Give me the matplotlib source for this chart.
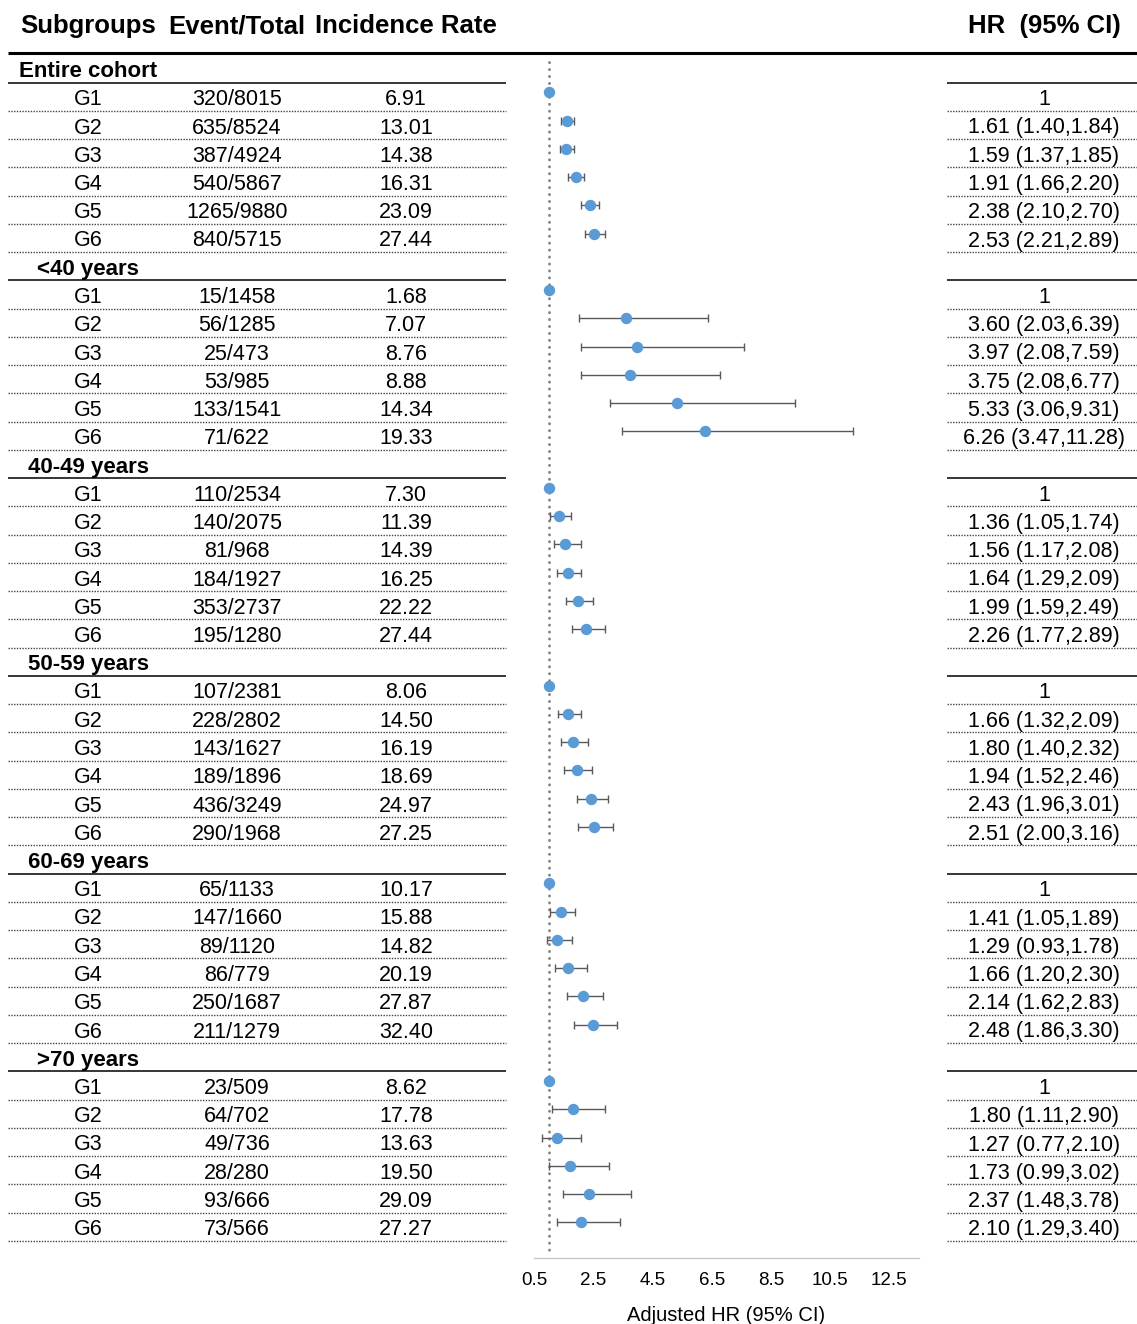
import numpy as np
import matplotlib
matplotlib.use("Agg")
import matplotlib.pyplot as plt

plt.rcParams['font.family'] = ['Liberation Sans', 'DejaVu Sans']

# table data
groups = ['Entire cohort', '<40 years', '40-49 years', '50-59 years', '60-69 years', '>70 years']
subgroups = ['G1', 'G2', 'G3', 'G4', 'G5', 'G6']

events = [[320, 635, 387, 540, 1265, 840],
          [15, 56, 25, 53, 133, 71],
          [110, 140, 81, 184, 353, 195],
          [107, 228, 143, 189, 436, 290],
          [65, 147, 89, 86, 250, 211],
          [23, 64, 49, 28, 93, 73]]
totals = [[8015, 8524, 4924, 5867, 9880, 5715],
          [1458, 1285, 473, 985, 1541, 622],
          [2534, 2075, 968, 1927, 2737, 1280],
          [2381, 2802, 1627, 1896, 3249, 1968],
          [1133, 1660, 1120, 779, 1687, 1279],
          [509, 702, 736, 280, 666, 566]]
rates = [[6.91, 13.01, 14.38, 16.31, 23.09, 27.44],
         [1.68, 7.07, 8.76, 8.88, 14.34, 19.33],
         [7.30, 11.39, 14.39, 16.25, 22.22, 27.44],
         [8.06, 14.50, 16.19, 18.69, 24.97, 27.25],
         [10.17, 15.88, 14.82, 20.19, 27.87, 32.40],
         [8.62, 17.78, 13.63, 19.50, 29.09, 27.27]]
hr = [[1, 1.61, 1.59, 1.91, 2.38, 2.53],
      [1, 3.60, 3.97, 3.75, 5.33, 6.26],
      [1, 1.36, 1.56, 1.64, 1.99, 2.26],
      [1, 1.66, 1.80, 1.94, 2.43, 2.51],
      [1, 1.41, 1.29, 1.66, 2.14, 2.48],
      [1, 1.80, 1.27, 1.73, 2.37, 2.10]]
lo = [[np.nan, 1.40, 1.37, 1.66, 2.10, 2.21],
      [np.nan, 2.03, 2.08, 2.08, 3.06, 3.47],
      [np.nan, 1.05, 1.17, 1.29, 1.59, 1.77],
      [np.nan, 1.32, 1.40, 1.52, 1.96, 2.00],
      [np.nan, 1.05, 0.93, 1.20, 1.62, 1.86],
      [np.nan, 1.11, 0.77, 0.99, 1.48, 1.29]]
hi = [[np.nan, 1.84, 1.85, 2.20, 2.70, 2.89],
      [np.nan, 6.39, 7.59, 6.77, 9.31, 11.28],
      [np.nan, 1.74, 2.08, 2.09, 2.49, 2.89],
      [np.nan, 2.09, 2.32, 2.46, 3.01, 3.16],
      [np.nan, 1.89, 1.78, 2.30, 2.83, 3.30],
      [np.nan, 2.90, 2.10, 3.02, 3.78, 3.40]]

xticks = [0.5, 2.5, 4.5, 6.5, 8.5, 10.5, 12.5]

W, H = 1137, 1324
fig = plt.figure(figsize=(W / 100, H / 100), dpi=100)

# table layer in pixel coordinates
tab = fig.add_axes([0, 0, 1, 1])
tab.set_xlim(0, W)
tab.set_ylim(H, 0)
tab.axis('off')

y0, step = 68.5, 28.25
toff = 3  # matplotlib 'center' sits a bit high
x_sub, x_evt, x_rate, x_hr = 88, 237, 406, 1044
left_span = (8, 506)
right_span = (947, 1137)

fs = 15.5
hfs = 18.5
hy = 23 + toff
tab.text(x_sub, hy, 'Subgroups', ha='center', va='center', fontsize=hfs, fontweight='bold')
tab.text(x_evt, hy, 'Event/Total', ha='center', va='center', fontsize=hfs, fontweight='bold')
tab.text(x_rate, hy, 'Incidence Rate', ha='center', va='center', fontsize=hfs, fontweight='bold')
tab.text(x_hr, hy, 'HR  (95% CI)', ha='center', va='center', fontsize=hfs, fontweight='bold')
tab.plot([8, 1137], [53, 53], color='black', lw=2.2, solid_capstyle='butt')

dot_y, dot_x, err_lo, err_hi = [], [], [], []
r = 0
for g, name in enumerate(groups):
    yh = y0 + r * step
    tab.text(x_sub, yh + toff, name, ha='center', va='center', fontsize=16, fontweight='bold')
    for span in (left_span, right_span):
        tab.plot(span, [yh + 14, yh + 14], color='black', lw=1.1, solid_capstyle='butt')
    r += 1
    for i, sg in enumerate(subgroups):
        y = y0 + r * step
        tab.text(x_sub, y + toff, sg, ha='center', va='center', fontsize=fs)
        tab.text(x_evt, y + toff, f'{events[g][i]}/{totals[g][i]}', ha='center', va='center', fontsize=fs)
        tab.text(x_rate, y + toff, f'{rates[g][i]:.2f}', ha='center', va='center', fontsize=fs)
        if np.isnan(lo[g][i]):
            lab = f'{hr[g][i]:g}'
        else:
            lab = f'{hr[g][i]:.2f} ({lo[g][i]:.2f},{hi[g][i]:.2f})'
        tab.text(x_hr, y + toff, lab, ha='center', va='center', fontsize=fs)
        for span in (left_span, right_span):
            tab.plot(span, [y + 14, y + 14], color='#444444', lw=1.0, linestyle=(0, (1, 1)))
        dot_y.append(y - 4.5)
        dot_x.append(hr[g][i])
        err_lo.append(hr[g][i] - lo[g][i])
        err_hi.append(hi[g][i] - hr[g][i])
        r += 1

# forest plot
ax_left, ax_right, ax_top, ax_bot = 534, 919, 55, 1258
ax = fig.add_axes([ax_left / W, (H - ax_bot) / H, (ax_right - ax_left) / W, (ax_bot - ax_top) / H])
ax.set_xlim(0.5, 13.5)
ax.set_ylim(ax_bot, ax_top)
ax.patch.set_alpha(0)

ax.plot([1, 1], [62, 1253], color='#808080', lw=2.0, linestyle=(0, (0.1, 2.4)), dash_capstyle='round')
ax.errorbar(dot_x, dot_y, xerr=[err_lo, err_hi], fmt='none', ecolor='#595959', elinewidth=1.0,
            capsize=3.0, capthick=1.0)
ax.plot(dot_x, dot_y, 'o', color='#5b9bd5', markersize=7.2, zorder=3)

for s in ['top', 'right', 'left']:
    ax.spines[s].set_visible(False)
ax.spines['bottom'].set_color('#c8c8c8')
ax.spines['bottom'].set_linewidth(1.0)
ax.set_yticks([])
ax.set_xticks(xticks)
ax.set_xticklabels([f'{t:g}' for t in xticks])
ax.tick_params(axis='x', length=0, pad=10, labelsize=13.5)
ax.set_xlabel('Adjusted HR (95% CI)', fontsize=14.5, labelpad=12)

fig.savefig('out.png', dpi=100)
